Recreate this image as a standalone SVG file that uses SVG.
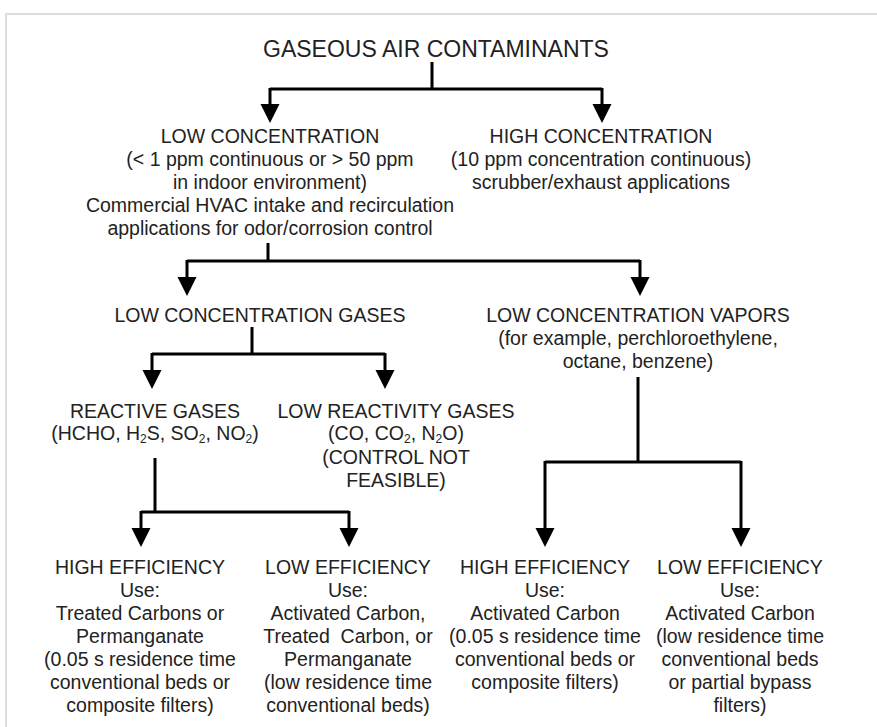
<svg xmlns="http://www.w3.org/2000/svg" width="877" height="727" viewBox="0 0 877 727">
<style>
text{font-family:"Liberation Sans",Arial,sans-serif;font-size:19.5px;fill:#222;text-anchor:middle}
.t{font-size:23px}
.s{font-size:12px}
.c{fill:none;stroke:#000;stroke-width:3}
.ah{fill:#000}
.f{fill:none;stroke:#dcdcdc;stroke-width:2}
</style>
<defs>
<polygon id="arr" points="-9.5,0 9.5,0 0,19"/>
</defs>
<rect width="877" height="727" fill="#fff"/>
<path class="f" d="M6,727 V14 H877"/>
<g id="connectors">
<path class="c" d="M432,62 V89 M270,89 H602 M270,88 V106 M602,88 V106"/>
<path class="c" d="M268,243 V261 M187,261 H640 M187,260 V279 M640,260 V279"/>
<path class="c" d="M252,327 V354 M152,354 H385 M152,353 V372 M385,353 V372"/>
<path class="c" d="M155,458 V512 M141,512 H349 M141,511 V530 M349,511 V530"/>
<path class="c" d="M638,377 V462 M545,462 H741 M545,461 V530 M741,461 V530"/>
<use href="#arr" class="ah" x="270" y="104"/>
<use href="#arr" class="ah" x="602" y="104"/>
<use href="#arr" class="ah" x="187" y="277"/>
<use href="#arr" class="ah" x="640" y="277"/>
<use href="#arr" class="ah" x="152" y="370"/>
<use href="#arr" class="ah" x="385" y="370"/>
<use href="#arr" class="ah" x="141" y="528"/>
<use href="#arr" class="ah" x="349" y="528"/>
<use href="#arr" class="ah" x="545" y="528"/>
<use href="#arr" class="ah" x="741" y="528"/>
</g>
<g id="n-root"><text class="t" x="436" y="57">GASEOUS AIR CONTAMINANTS</text></g>
<g id="n-lowconc">
<text x="270" y="143">LOW CONCENTRATION</text>
<text x="270" y="166">(&lt; 1 ppm continuous or &gt; 50 ppm</text>
<text x="270" y="189">in indoor environment)</text>
<text x="270" y="212">Commercial HVAC intake and recirculation</text>
<text x="270" y="235">applications for odor/corrosion control</text>
</g>
<g id="n-highconc">
<text x="601" y="143">HIGH CONCENTRATION</text>
<text x="601" y="166">(10 ppm concentration continuous)</text>
<text x="601" y="189">scrubber/exhaust applications</text>
</g>
<g id="n-gases"><text x="260" y="322">LOW CONCENTRATION GASES</text></g>
<g id="n-vapors">
<text x="638" y="322">LOW CONCENTRATION VAPORS</text>
<text x="638" y="345">(for example, perchloroethylene,</text>
<text x="638" y="368">octane, benzene)</text>
</g>
<g id="n-reactive">
<text x="155" y="418">REACTIVE GASES</text>
<text x="155" y="440">(HCHO, H<tspan class="s" dy="3">2</tspan><tspan dy="-3">S, SO</tspan><tspan class="s" dy="3">2</tspan><tspan dy="-3">, NO</tspan><tspan class="s" dy="3">2</tspan><tspan dy="-3">)</tspan></text>
</g>
<g id="n-lowreact">
<text x="396" y="418">LOW REACTIVITY GASES</text>
<text x="396" y="440">(CO, CO<tspan class="s" dy="3">2</tspan><tspan dy="-3">, N</tspan><tspan class="s" dy="3">2</tspan><tspan dy="-3">O)</tspan></text>
<text x="396" y="464">(CONTROL NOT</text>
<text x="396" y="487">FEASIBLE)</text>
</g>
<g id="n-he1">
<text x="140" y="574">HIGH EFFICIENCY</text>
<text x="140" y="597">Use:</text>
<text x="140" y="620">Treated Carbons or</text>
<text x="140" y="643">Permanganate</text>
<text x="140" y="666">(0.05 s residence time</text>
<text x="140" y="689">conventional beds or</text>
<text x="140" y="712">composite filters)</text>
</g>
<g id="n-le1">
<text x="348" y="574">LOW EFFICIENCY</text>
<text x="348" y="597">Use:</text>
<text x="348" y="620">Activated Carbon,</text>
<text x="348" y="643" xml:space="preserve">Treated  Carbon, or</text>
<text x="348" y="666">Permanganate</text>
<text x="348" y="689">(low residence time</text>
<text x="348" y="712">conventional beds)</text>
</g>
<g id="n-he2">
<text x="545" y="574">HIGH EFFICIENCY</text>
<text x="545" y="597">Use:</text>
<text x="545" y="620">Activated Carbon</text>
<text x="545" y="643">(0.05 s residence time</text>
<text x="545" y="666">conventional beds or</text>
<text x="545" y="689">composite filters)</text>
</g>
<g id="n-le2">
<text x="740" y="574">LOW EFFICIENCY</text>
<text x="740" y="597">Use:</text>
<text x="740" y="620">Activated Carbon</text>
<text x="740" y="643">(low residence time</text>
<text x="740" y="666">conventional beds</text>
<text x="740" y="689">or partial bypass</text>
<text x="740" y="712">filters)</text>
</g>
</svg>
